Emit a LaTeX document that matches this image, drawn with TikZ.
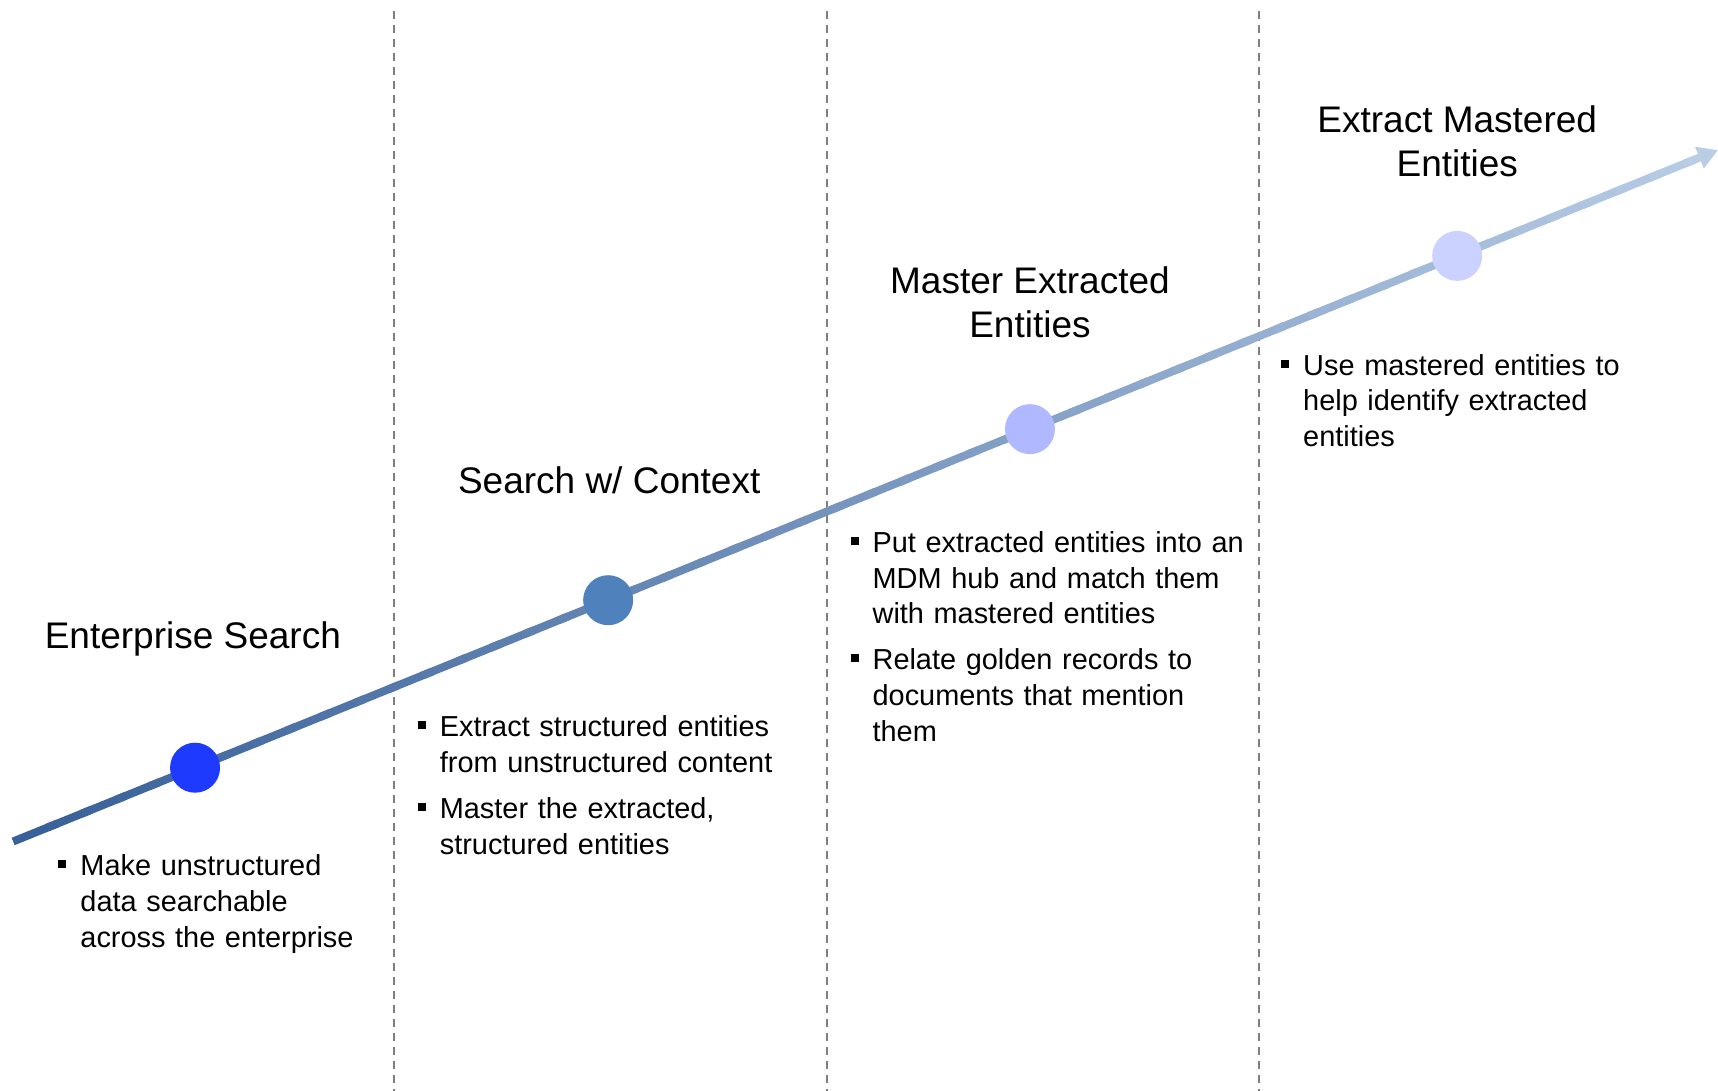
\documentclass[tikz,border=0pt]{standalone}
\usepackage{fontspec}
\setmainfont{Liberation Sans}
\usetikzlibrary{calc,arrows.meta}
\definecolor{lstart}{RGB}{55,95,152}
\definecolor{lend}{RGB}{185,205,229}
\definecolor{dotA}{RGB}{31,58,255}
\definecolor{dotB}{RGB}{79,129,189}
\definecolor{dotC}{RGB}{176,184,255}
\definecolor{dotD}{RGB}{204,210,255}
\definecolor{divgray}{RGB}{128,128,128}
\newcommand{\bul}{\makebox[11pt][l]{\raisebox{3.8pt}{\rule{4pt}{4pt}}}}
\newcommand{\bitem}[1]{\leftskip=11pt\hskip-11pt\bul#1\par}
\tikzset{
  divider/.style={draw=divgray, line width=1pt, dash pattern=on 4pt off 3pt},
  mainline/.style={line width=4pt, line cap=butt},
  dot/.style={circle, draw=none, minimum size=25pt, inner sep=0pt},
  title/.style={anchor=north, inner sep=0pt, align=center, font=\fontsize{18.5}{21.9}\selectfont},
  bodytext/.style={anchor=north west, inner sep=0pt, text width=200pt, align=left,
    font=\fontsize{14.45}{17.8}\selectfont\setlength{\parskip}{5.2pt}},
}
\begin{document}
\begin{tikzpicture}[x=0.54785pt, y=-0.54785pt]
\useasboundingbox (0,0) rectangle (1568,995.7);
% dividers
\draw[divider] (360,10) -- (360,996);
\draw[divider] (755,10) -- (755,996);
\draw[divider] (1149,10) -- (1149,996);
% main gradient arrow
\coordinate (s) at (12,768);
\coordinate (e) at (1568,137);
\foreach \i in {0,...,48} {
  \pgfmathsetmacro\ta{\i/50}
  \pgfmathsetmacro\tb{(\i+1.3)/50}
  \pgfmathtruncatemacro\pc{100*(\i+0.5)/50}
  \draw[mainline, draw=lend!\pc!lstart] ($(s)!\ta!(e)$) -- ($(s)!\tb!(e)$);
}
\coordinate (ah) at ($(s)!0.98!(e)$);
\draw[mainline, draw=lend, -{Triangle[length=10pt,width=11pt]}] (ah) -- (e);
% dots
\node[dot, fill=dotA] (d1) at ($(s)!0.1067!(e)$) {};
\node[dot, fill=dotB] (d2) at ($(s)!0.349!(e)$) {};
\node[dot, fill=dotC] (d3) at ($(s)!0.5964!(e)$) {};
\node[dot, fill=dotD] (d4) at ($(s)!0.847!(e)$) {};
% titles
\node[title] (t1) at (176,567) {Enterprise Search};
\node[title] (t2) at (556,426) {Search w/ Context};
\node[title] (t3) at (940,243) {Master Extracted\\Entities};
\node[title] (t4) at (1330,96) {Extract Mastered\\Entities};
% bullet lists
\node[bodytext] (b1) at (53,780) {\bitem{Make unstructured\\data searchable\\across the enterprise}};
\node[bodytext] (b2) at (381,653) {\bitem{Extract structured entities\\from unstructured content}\bitem{Master the extracted,\\structured entities}};
\node[bodytext] (b3) at (776,485) {\bitem{Put extracted entities into an\\MDM hub and match them\\with mastered entities}\bitem{Relate golden records to\\documents that mention\\them}};
\node[bodytext] (b4) at (1169,323) {\bitem{Use mastered entities to\\help identify extracted\\entities}};
\end{tikzpicture}
\end{document}
